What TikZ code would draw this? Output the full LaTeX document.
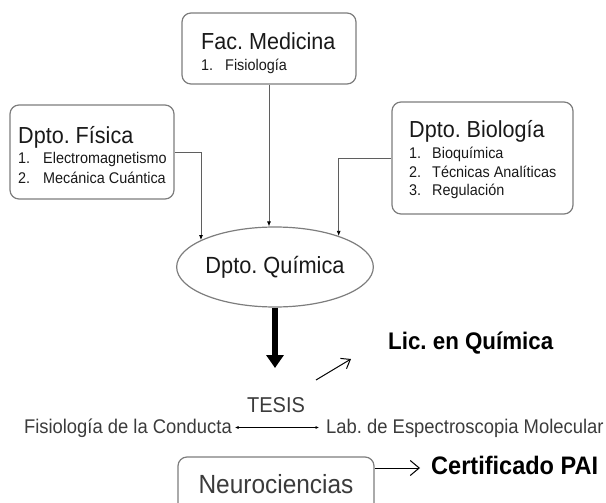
\documentclass[tikz,border=0pt]{standalone}
\usepackage{fontspec}
\setmainfont{Liberation Sans}[FakeStretch=0.93]
\usetikzlibrary{arrows.meta,shapes.geometric}
\definecolor{boxgray}{RGB}{125,125,125}
\definecolor{txt}{RGB}{25,25,25}
\definecolor{linegray}{RGB}{95,95,95}
\frenchspacing
\begin{document}
\begin{tikzpicture}[x=1pt,y=-1pt,
  box/.style={draw=boxgray,line width=1.2pt,rounded corners=9pt,inner sep=0pt},
  titletxt/.style={anchor=base west,inner sep=0pt,font=\fontsize{23.2}{26}\selectfont,text=txt},
  itemtxt/.style={anchor=base west,inner sep=0pt,font=\fontsize{15.5}{17}\selectfont,text=txt},
  conn/.style={draw=linegray,line width=0.8pt,-{Latex[length=5pt,width=4pt,black]}},
  plaintxt/.style={inner sep=0pt,text=txt!85!white},
  boldtxt/.style={inner sep=0pt,text=black,font=\bfseries}
]
\useasboundingbox (0,0) rectangle (606,503);

% Boxes
\node[box,minimum width=174pt,minimum height=71pt] (med) at (269,48.5) {};
\node[box,minimum width=164pt,minimum height=94pt] (fis) at (92,152) {};
\node[box,minimum width=181pt,minimum height=112pt] (bio) at (482.5,158) {};
\node[draw=boxgray,line width=1.2pt,ellipse,minimum width=172pt,minimum height=80pt,inner sep=0pt,
      font=\fontsize{23.4}{26}\selectfont,text=txt] (ell) at (275,267) {\raisebox{5pt}{Dpto. Química}};
\node[box,minimum width=196pt,minimum height=58pt,font=\fontsize{26.3}{29}\selectfont,text=txt!85!white]
      (neu) at (276,486) {\raisebox{5pt}{Neurociencias}};

% Box texts
\node[titletxt] (medt) at (201,50) {Fac. Medicina};
\node[itemtxt] (med1n) at (201,71) {1.};
\node[itemtxt] (med1) at (225,71) {Fisiología};

\node[titletxt] (fist) at (18,143) {Dpto. Física};
\node[itemtxt] (fis1n) at (18,164) {1.};
\node[itemtxt] (fis1) at (43,164) {Electromagnetismo};
\node[itemtxt] (fis2n) at (18,183) {2.};
\node[itemtxt] (fis2) at (43,183) {Mecánica Cuántica};

\node[titletxt] (biot) at (409,138) {Dpto. Biología};
\node[itemtxt] (bio1n) at (409,159) {1.};
\node[itemtxt] (bio1) at (432,159) {Bioquímica};
\node[itemtxt] (bio2n) at (409,177) {2.};
\node[itemtxt] (bio2) at (432,177) {Técnicas Analíticas};
\node[itemtxt] (bio3n) at (409,196) {3.};
\node[itemtxt] (bio3) at (432,196) {Regulación};

% Connectors to ellipse
\draw[conn] (med.south) -- (med.south |- ell.north);
\draw[conn] (fis.east) -| (ell.160);
\draw[conn] (bio.west) -| (ell.26);

% Thick arrow
\coordinate (thk) at (275,368);
\draw[line width=6pt,-{Triangle[length=13pt,width=17pt]}] (ell.south) -- (thk);

% Lower texts
\node[plaintxt,font=\fontsize{21.5}{24}\selectfont] (tesis) at (276,405) {TESIS};
\node[plaintxt,font=\fontsize{19.8}{22}\selectfont,anchor=base east] (fcond) at (232,433) {Fisiología de la Conducta};
\node[plaintxt,font=\fontsize{19.8}{22}\selectfont,anchor=base west] (lab) at (326,433) {Lab. de Espectroscopia Molecular};
\draw[line width=0.6pt,{Latex[length=3.5pt,width=3pt]}-{Latex[length=3.5pt,width=3pt]}]
  ([xshift=3pt,yshift=5.5pt]fcond.base east) -- ([xshift=-7pt,yshift=5.5pt]lab.base west);

\node[boldtxt,font=\bfseries\fontsize{24}{26}\selectfont,anchor=west] (lic) at (388,343) {Lic. en Química};
\coordinate (la) at (316,380);
\coordinate (lb) at (351,359);
\draw[line width=1pt,-{Straight Barb[length=8pt,width=12pt]}] (la) -- (lb);

\node[boldtxt,font=\bfseries\fontsize{25.3}{28}\selectfont,anchor=west] (cert) at (431,465) {Certificado PAI};
\coordinate (nb) at (420,468);
\draw[line width=1pt,-{Straight Barb[length=9pt,width=15pt]}] (neu.east |- nb) -- (nb);
\end{tikzpicture}
\end{document}
